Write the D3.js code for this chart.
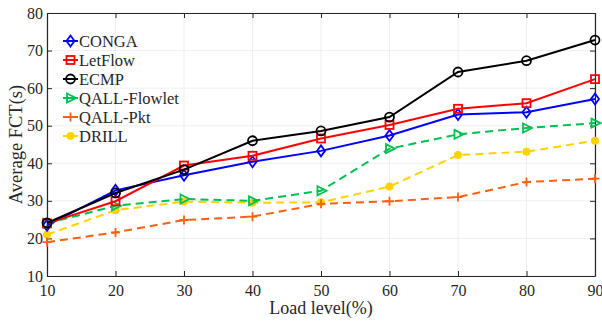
<!DOCTYPE html>
<html>
<head>
<meta charset="utf-8">
<script src="https://cdn.jsdelivr.net/npm/d3@7"></script>
<style>
  body { margin: 0; background: #fff; }
  svg text { font-family: "Liberation Serif", "Times New Roman", serif; fill: #262626; }
</style>
</head>
<body>
<svg id="chart" width="602" height="326"></svg>
<script>
// data
const loads = [10, 20, 30, 40, 50, 60, 70, 80, 90]
const conga = [23.5, 32.8, 36.8, 40.4, 43.3, 47.4, 53.0, 53.6, 57.1]
const letflow = [24.0, 29.9, 39.4, 42.0, 46.6, 50.2, 54.5, 56.0, 62.4]
const ecmp = [24.1, 32.1, 38.3, 46.0, 48.6, 52.3, 64.3, 67.3, 72.8]
const qallFlowlet = [24.0, 28.7, 30.5, 30.0, 32.7, 43.9, 47.7, 49.4, 50.7]
const qallPkt = [19.0, 21.6, 24.9, 25.8, 29.2, 29.9, 31.0, 35.0, 35.9]
const drill = [21.0, 27.5, 29.8, 29.5, 29.6, 33.8, 42.2, 43.1, 46.0]
const yTicks = [10, 20, 30, 40, 50, 60, 70, 80]

const series = [
  { name: "CONGA", values: conga, color: "#0000ff", dash: null, marker: "diamond" },
  { name: "LetFlow", values: letflow, color: "#ff0000", dash: null, marker: "square" },
  { name: "ECMP", values: ecmp, color: "#000000", dash: null, marker: "circle" },
  { name: "QALL-Flowlet", values: qallFlowlet, color: "#00c050", dash: "8,5", marker: "triangle" },
  { name: "QALL-Pkt", values: qallPkt, color: "#ff6010", dash: "8,5", marker: "plus" },
  { name: "DRILL", values: drill, color: "#ffd200", dash: "8,5", marker: "dot" }
]

const svg = d3.select("#chart")
const m = { left: 47, right: 7, top: 13, bottom: 50 }
const W = 602, H = 326
const x = d3.scaleLinear().domain([10, 90]).range([m.left, W - m.right])
const y = d3.scaleLinear().domain([10, 80]).range([H - m.bottom, m.top])

// grid
const grid = svg.append("g")
grid.selectAll(".gx").data(loads).enter().append("line")
  .attr("x1", d => x(d)).attr("x2", d => x(d))
  .attr("y1", y(10)).attr("y2", y(80))
  .attr("stroke", "#ebebeb").attr("stroke-width", 0.8)
grid.selectAll(".gy").data(yTicks).enter().append("line")
  .attr("x1", x(10)).attr("x2", x(90))
  .attr("y1", d => y(d)).attr("y2", d => y(d))
  .attr("stroke", "#ebebeb").attr("stroke-width", 0.8)

// axes, ticks inward on all four sides
const axisStyle = g => {
  g.select(".domain").attr("stroke", "#262626").attr("stroke-width", 1.2)
  g.selectAll(".tick line").attr("stroke", "#262626")
  g.selectAll("text").style("font-size", "16px").attr("fill", "#262626")
}
svg.append("g").attr("transform", `translate(0,${y(10)})`)
  .call(d3.axisBottom(x).tickValues(loads).tickSize(-5).tickPadding(9).tickSizeOuter(0))
  .call(axisStyle)
svg.append("g").attr("transform", `translate(0,${y(80)})`)
  .call(d3.axisTop(x).tickValues(loads).tickSize(-5).tickFormat("").tickSizeOuter(0))
  .call(axisStyle)
svg.append("g").attr("transform", `translate(${x(10)},0)`)
  .call(d3.axisLeft(y).tickValues(yTicks).tickSize(-5).tickPadding(4).tickSizeOuter(0))
  .call(axisStyle)
svg.append("g").attr("transform", `translate(${x(90)},0)`)
  .call(d3.axisRight(y).tickValues(yTicks).tickSize(-5).tickFormat("").tickSizeOuter(0))
  .call(axisStyle)

// axis titles
svg.append("text").attr("x", (x(10) + x(90)) / 2).attr("y", 314)
  .attr("text-anchor", "middle").style("font-size", "18px").text("Load level(%)")
svg.append("text").attr("transform", `translate(22,${(y(10) + y(80)) / 2}) rotate(-90)`)
  .attr("text-anchor", "middle").style("font-size", "18.5px").text("Average FCT(s)")

const drawMarker = (g, type, color) => {
  const s = 4.5
  if (type === "diamond") {
    g.append("path").attr("d", `M0,${-s - 1}L${s - 0.5},0L0,${s + 1}L${-s + 0.5},0Z`)
      .attr("fill", "none").attr("stroke", color).attr("stroke-width", 1.8)
  } else if (type === "square") {
    g.append("rect").attr("x", -s + 0.5).attr("y", -s + 0.5).attr("width", 2 * s - 1).attr("height", 2 * s - 1)
      .attr("fill", "none").attr("stroke", color).attr("stroke-width", 1.8)
  } else if (type === "circle") {
    g.append("circle").attr("r", s).attr("fill", "none").attr("stroke", color).attr("stroke-width", 1.8)
  } else if (type === "triangle") {
    g.append("path").attr("d", `M${-s + 1},${-s}L${s + 1},0L${-s + 1},${s}Z`)
      .attr("fill", "none").attr("stroke", color).attr("stroke-width", 1.8)
  } else if (type === "plus") {
    g.append("path").attr("d", `M${-s},0H${s}M0,${-s}V${s}`)
      .attr("stroke", color).attr("stroke-width", 1.8)
  } else if (type === "dot") {
    g.append("circle").attr("r", 4).attr("fill", color)
  }
}

const line = d3.line().x((d, i) => x(loads[i])).y(d => y(d))

// draw bottom-most series first so solid lines sit on top
const order = [5, 4, 3, 0, 1, 2]
order.forEach(k => {
  const s = series[k]
  svg.append("path").datum(s.values)
    .attr("d", line)
    .attr("fill", "none")
    .attr("stroke", s.color)
    .attr("stroke-width", 2)
    .attr("stroke-dasharray", s.dash)
  svg.append("g").selectAll("g").data(s.values).enter().append("g")
    .attr("transform", (d, i) => `translate(${x(loads[i])},${y(d)})`)
    .each(function () { drawMarker(d3.select(this), s.marker, s.color) })
})

// legend
const legend = svg.append("g").attr("transform", "translate(63,41)")
series.forEach((s, i) => {
  const row = legend.append("g").attr("transform", `translate(0,${i * 19})`)
  row.append("line").attr("x1", 0).attr("x2", 15).attr("stroke", s.color)
    .attr("stroke-width", 2)
  drawMarker(row.append("g").attr("transform", "translate(7.5,0)"), s.marker, s.color)
  row.append("text").attr("x", 16).attr("y", 5.5).style("font-size", "16.5px").text(s.name)
})
</script>
</body>
</html>
